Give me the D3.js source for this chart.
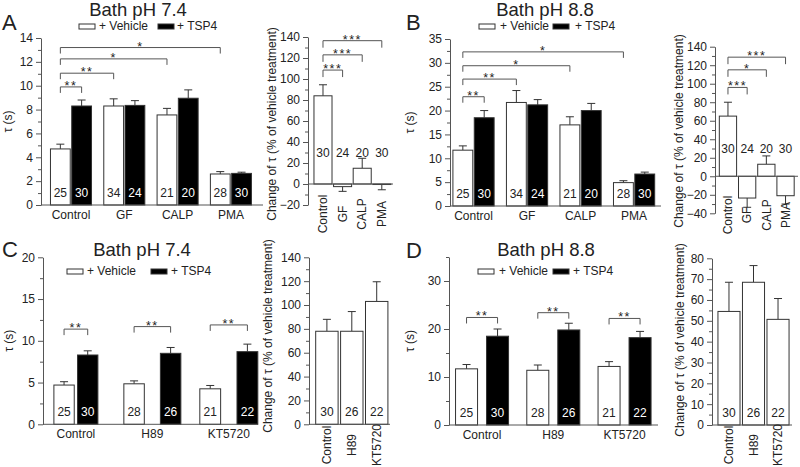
<!DOCTYPE html>
<html><head><meta charset="utf-8">
<script src="https://cdn.jsdelivr.net/npm/d3@7"></script>
<style>
body{margin:0;background:#fff}
text{font-family:"Liberation Sans",Arial,sans-serif;fill:#222}
</style>
</head><body>
<svg id="chart" width="800" height="467"></svg>
<script>
// ---------------- DATA ----------------
const groupsAB = ["Control", "GF", "CALP", "PMA"];
const groupsCD = ["Control", "H89", "KT5720"];
const seriesKeys = ["veh", "tsp"];
const seriesLabels = ["+ Vehicle", "+ TSP4"];

// Panel A (pH 7.4), tau (s)
const vehA = [4.7, 8.3, 7.55, 2.6];
const vehErrA = [0.4, 0.6, 0.55, 0.2];
const tspA = [8.3, 8.35, 8.95, 2.65];
const tspErrA = [0.5, 0.4, 0.7, 0.1];
const nVehA = [25, 34, 21, 28];
const nTspA = [30, 24, 20, 30];
const sigToA = ["Control|tsp", "GF|veh", "CALP|veh", "PMA|veh"];
const sigLabelA = ["**", "**", "*", "*"];
const sigLevelA = [9.9, 11.05, 12.25, 13.2];
// Panel A right: change of tau (%)
const changeA = [84, -2.5, 15, -0.5];
const changeErrA = [10.5, 4.5, 9.5, 5];
const nChangeA = [30, 24, 20, 30];
const csigToA = ["GF", "CALP", "PMA"];
const csigLabelA = ["***", "***", "***"];
const csigLevelA = [108.5, 123, 136.5];

// Panel B (pH 8.8)
const vehB = [11.7, 21.7, 17.0, 4.9];
const vehErrB = [0.9, 2.5, 1.7, 0.4];
const tspB = [18.5, 21.2, 20.0, 6.7];
const tspErrB = [1.5, 1.1, 1.5, 0.4];
const nVehB = [25, 34, 21, 28];
const nTspB = [30, 24, 20, 30];
const sigToB = ["Control|tsp", "GF|veh", "CALP|veh", "PMA|veh"];
const sigLabelB = ["**", "**", "*", "*"];
const sigLevelB = [22.9, 26.6, 29.4, 32.3];
const changeB = [65, -23.5, 13, -21];
const changeErrB = [15, 10, 9, 9];
const nChangeB = [30, 24, 20, 30];
const csigToB = ["GF", "CALP", "PMA"];
const csigLabelB = ["***", "*", "***"];
const csigLevelB = [96, 115, 128.7];

// Panel C (pH 7.4, PKA inhibitors)
const vehC = [4.7, 4.85, 4.25];
const vehErrC = [0.4, 0.35, 0.4];
const tspC = [8.3, 8.5, 8.7];
const tspErrC = [0.5, 0.7, 0.9];
const nVehC = [25, 28, 21];
const nTspC = [30, 26, 22];
const sigFromC = ["Control|veh", "H89|veh", "KT5720|veh"];
const sigToC = ["Control|tsp", "H89|tsp", "KT5720|tsp"];
const sigLabelC = ["**", "**", "**"];
const sigLevelC = [11.4, 11.7, 11.9];
const changeC = [78, 78, 103];
const changeErrC = [10, 16.5, 16.5];
const nChangeC = [30, 26, 22];

// Panel D (pH 8.8, PKA inhibitors)
const vehD = [11.7, 11.4, 12.2];
const vehErrD = [0.9, 1.1, 1.0];
const tspD = [18.5, 19.8, 18.2];
const tspErrD = [1.5, 1.4, 1.3];
const nVehD = [25, 28, 21];
const nTspD = [30, 26, 22];
const sigFromD = ["Control|veh", "H89|veh", "KT5720|veh"];
const sigToD = ["Control|tsp", "H89|tsp", "KT5720|tsp"];
const sigLabelD = ["**", "**", "**"];
const sigLevelD = [22.4, 23.4, 22.2];
const changeD = [54.5, 68.5, 50.7];
const changeErrD = [14, 8, 10];
const nChangeD = [30, 26, 22];

// ---------------- DRAWING ----------------
const svg = d3.select("#chart");
svg.append("rect").attr("width", 800).attr("height", 467).attr("fill", "#fff");
const AX = "#555", BAR = "#333", TXT = "#222";
const FONT = '"Liberation Sans",Arial,sans-serif';
const FS = 12;

function yAxis(g, y, x, major, minor) {
  const ax = d3.axisLeft(y).tickValues(major).tickSize(5).tickSizeOuter(0).tickPadding(3).tickFormat(d3.format("d"));
  const a = g.append("g").attr("transform", `translate(${x},0)`).call(ax);
  a.select(".domain").attr("stroke", AX);
  a.selectAll(".tick line").attr("stroke", AX);
  a.selectAll(".tick text").attr("font-size", FS).attr("fill", TXT).attr("font-family", FONT);
  const am = d3.axisLeft(y).tickValues(minor).tickSize(3).tickSizeOuter(0).tickFormat("");
  const b = g.append("g").attr("transform", `translate(${x},0)`).call(am);
  b.select(".domain").remove();
  b.selectAll(".tick line").attr("stroke", AX);
}

function errBar(g, x, y, v, e, cap) {
  const s = v >= 0 ? 1 : -1;
  g.append("line").attr("x1", x).attr("x2", x).attr("y1", y(v)).attr("y2", y(v + s * e)).attr("stroke", BAR);
  g.append("line").attr("x1", x - cap / 2).attr("x2", x + cap / 2).attr("y1", y(v + s * e)).attr("y2", y(v + s * e)).attr("stroke", BAR);
}

function rotLabel(g, txt, x, y) {
  g.append("text").attr("transform", `translate(${x},${y}) rotate(-90)`).attr("text-anchor", "middle")
    .attr("dy", "0.35em").attr("font-size", FS).style("fill", TXT).text(txt);
}

function bracket(g, xa, xb, yl, label, leg) {
  g.append("path").attr("d", `M${xa},${yl + leg}V${yl}H${xb}V${yl + leg}`).attr("fill", "none").attr("stroke", AX);
  g.append("text").attr("x", (xa + xb) / 2).attr("y", yl + 3).attr("text-anchor", "middle")
    .attr("font-size", 12.5).attr("letter-spacing", 1.5).style("fill", TXT).attr("font-family", FONT).text(label);
}

function mainPanel(cfg) {
  const g = svg.append("g");
  const y = d3.scaleLinear().domain(cfg.yDomain).range([cfg.bot, cfg.top]);
  const x0 = d3.scaleBand().domain(cfg.groups).range(cfg.bandRange).paddingInner(cfg.pad).paddingOuter(cfg.pad);
  // inner (series) scale per group; width and padding can differ per group
  const x1 = {};
  cfg.groups.forEach((gr, i) => {
    const c = x0(gr) + x0.bandwidth() / 2;
    const w = cfg.groupW ? cfg.groupW[i] : x0.bandwidth();
    const p = Array.isArray(cfg.innerPad) ? cfg.innerPad[i] : cfg.innerPad;
    x1[gr] = d3.scaleBand().domain(seriesKeys).range([c - w / 2, c + w / 2]).paddingInner(p);
  });
  const bx = (gr, s) => x1[gr](s);
  const bw = gr => x1[gr].bandwidth();
  const cx = key => { const [gr, s] = key.split("|"); return bx(gr, s) + bw(gr) / 2; };

  const rows = [];
  cfg.groups.forEach((gr, i) => {
    rows.push({ g: gr, s: "veh", v: cfg.veh[i], e: cfg.vehErr[i], n: cfg.nVeh[i] });
    rows.push({ g: gr, s: "tsp", v: cfg.tsp[i], e: cfg.tspErr[i], n: cfg.nTsp[i] });
  });
  rows.forEach(r => errBar(g, cx(r.g + "|" + r.s), y, r.v, r.e, 8));
  g.selectAll(null).data(rows).enter().append("rect")
    .attr("x", r => bx(r.g, r.s)).attr("width", r => bw(r.g))
    .attr("y", r => y(r.v)).attr("height", r => y(0) - y(r.v))
    .attr("fill", r => r.s === "veh" ? "#fff" : "#000").attr("stroke", BAR).attr("stroke-width", 1);
  g.selectAll(null).data(rows).enter().append("text")
    .attr("x", r => cx(r.g + "|" + r.s)).attr("y", y(0) - 8).attr("text-anchor", "middle")
    .attr("font-size", FS).style("fill", r => r.s === "veh" ? TXT : "#fff").text(r => r.n);

  yAxis(g, y, cfg.axL, cfg.major, cfg.minor);
  g.append("line").attr("x1", cfg.axL).attr("x2", cfg.axR).attr("y1", y(0)).attr("y2", y(0)).attr("stroke", AX);
  g.selectAll(null).data(cfg.groups).enter().append("text")
    .attr("x", d => x0(d) + x0.bandwidth() / 2).attr("y", y(0) + 14).attr("text-anchor", "middle")
    .attr("font-size", FS).style("fill", TXT).text(d => d);
  rotLabel(g, "τ (s)", cfg.ylabX, (cfg.top + cfg.bot) / 2);

  cfg.sigTo.forEach((t, i) => {
    const from = cfg.sigFrom ? cfg.sigFrom[i] : "Control|veh";
    bracket(g, cx(from), cx(t), y(cfg.sigLevel[i]), cfg.sigLabel[i], 6);
  });

  g.append("text").attr("x", cfg.titleX).attr("y", cfg.titleY).attr("text-anchor", "middle").attr("font-size", 18.5).style("fill", TXT).text(cfg.title);
  g.append("text").attr("x", cfg.letterX).attr("y", cfg.letterY).attr("font-size", 22).style("fill", TXT).text(cfg.letter);
  const L = cfg.legend;
  seriesKeys.forEach((s, i) => {
    g.append("rect").attr("x", L.rx[i]).attr("y", L.y - 6).attr("width", 16).attr("height", 5)
      .attr("fill", s === "veh" ? "#fff" : "#000").attr("stroke", BAR);
    g.append("text").attr("x", L.tx[i]).attr("y", L.y).attr("font-size", FS).style("fill", TXT).text(seriesLabels[i]);
  });
}

function changePanel(cfg) {
  const g = svg.append("g");
  const y = d3.scaleLinear().domain(cfg.yDomain).range([cfg.bot, cfg.top]);
  const x = d3.scaleBand().domain(cfg.groups).range(cfg.bandRange).paddingInner(cfg.pad).paddingOuter(cfg.pad);
  const cx = d => x(d) + x.bandwidth() / 2;
  cfg.groups.forEach((d, i) => errBar(g, cx(d), y, cfg.vals[i], cfg.errs[i], 8));
  g.selectAll(null).data(cfg.groups).enter().append("rect")
    .attr("x", d => x(d)).attr("width", x.bandwidth())
    .attr("y", (d, i) => y(Math.max(0, cfg.vals[i])))
    .attr("height", (d, i) => Math.abs(y(cfg.vals[i]) - y(0)))
    .attr("fill", "#fff").attr("stroke", BAR);
  g.selectAll(null).data(cfg.groups).enter().append("text")
    .attr("x", d => cx(d)).attr("y", cfg.nAt === "bottom" ? y(0) - 8 : y(cfg.nLevel) + 4.5)
    .attr("text-anchor", "middle").attr("font-size", FS).style("fill", TXT).text((d, i) => cfg.ns[i]);
  yAxis(g, y, cfg.axL, cfg.major, cfg.minor);
  g.append("line").attr("x1", cfg.axL).attr("x2", cfg.axR).attr("y1", y(0)).attr("y2", y(0)).attr("stroke", AX);
  g.selectAll(null).data(cfg.groups).enter().append("text")
    .attr("transform", d => `translate(${cx(d)},${cfg.xlabY}) rotate(-90)`)
    .attr("text-anchor", "middle").attr("dy", "0.35em").attr("font-size", FS).style("fill", TXT).text(d => d);
  rotLabel(g, "Change of τ (% of vehicle treatment)", cfg.ylabX, cfg.ylabY);
  if (cfg.sigTo) cfg.sigTo.forEach((t, i) => bracket(g, cx(cfg.groups[0]), cx(t), y(cfg.sigLevel[i]), cfg.sigLabel[i], 7));
}

// ---- Panel A
mainPanel({
  groups: groupsAB, veh: vehA, vehErr: vehErrA, tsp: tspA, tspErr: tspErrA, nVeh: nVehA, nTsp: nTspA,
  sigTo: sigToA, sigLabel: sigLabelA, sigLevel: sigLevelA,
  yDomain: [0, 14], major: d3.range(0, 15, 2), minor: d3.range(1, 14, 2),
  top: 38, bot: 205, axL: 41, axR: 263, bandRange: [38.2, 263.7], pad: 0.23, innerPad: 0.07,
  ylabX: 8, title: "Bath pH 7.4", titleX: 138, titleY: 16, letter: "A", letterX: 2, letterY: 30,
  legend: { y: 30, rx: [79, 158], tx: [99, 177] }
});
changePanel({
  groups: groupsAB, vals: changeA, errs: changeErrA, ns: nChangeA, nAt: "top", nLevel: 30,
  sigTo: csigToA, sigLabel: csigLabelA, sigLevel: csigLevelA,
  yDomain: [-20, 140], major: d3.range(-20, 141, 20), minor: d3.range(-10, 140, 20),
  top: 37, bot: 205, axL: 308, axR: 393, bandRange: [312.4, 392.4], pad: 0.08,
  xlabY: 214, ylabX: 272, ylabY: 124
});
// ---- Panel B
mainPanel({
  groups: groupsAB, veh: vehB, vehErr: vehErrB, tsp: tspB, tspErr: tspErrB, nVeh: nVehB, nTsp: nTspB,
  sigTo: sigToB, sigLabel: sigLabelB, sigLevel: sigLevelB,
  yDomain: [0, 35], major: d3.range(0, 36, 5), minor: d3.range(2.5, 35, 5),
  top: 39, bot: 206, axL: 450, axR: 661, bandRange: [440.6, 667], pad: 0.23, innerPad: 0.07,
  ylabX: 410, title: "Bath pH 8.8", titleX: 545, titleY: 16, letter: "B", letterX: 406, letterY: 30,
  legend: { y: 30, rx: [479, 553], tx: [500, 575] }
});
changePanel({
  groups: groupsAB, vals: changeB, errs: changeErrB, ns: nChangeB, nAt: "top", nLevel: 30.5,
  sigTo: csigToB, sigLabel: csigLabelB, sigLevel: csigLevelB,
  yDomain: [-40, 140], major: d3.range(-40, 141, 20), minor: d3.range(-30, 140, 20),
  top: 46.7, bot: 213.3, axL: 715, axR: 798, bandRange: [717.4, 796.1], pad: 0.1,
  xlabY: 215, ylabX: 679, ylabY: 131
});
// ---- Panel C
mainPanel({
  groups: groupsCD, veh: vehC, vehErr: vehErrC, tsp: tspC, tspErr: tspErrC, nVeh: nVehC, nTsp: nTspC,
  sigFrom: sigFromC, sigTo: sigToC, sigLabel: sigLabelC, sigLevel: sigLevelC,
  yDomain: [0, 20], major: d3.range(0, 21, 5), minor: d3.range(2.5, 20, 5),
  top: 257.3, bot: 424.3, axL: 43, axR: 257, bandRange: [28.6, 276.1], pad: 0.237,
  groupW: [44, 57, 58], innerPad: [0.14, 0.44, 0.44],
  ylabX: 9, title: "Bath pH 7.4", titleX: 142, titleY: 256, letter: "C", letterX: 2, letterY: 257,
  legend: { y: 275, rx: [67, 151], tx: [87, 171] }
});
changePanel({
  groups: groupsCD, vals: changeC, errs: changeErrC, ns: nChangeC, nAt: "bottom",
  yDomain: [0, 140], major: d3.range(0, 141, 20), minor: d3.range(10, 140, 20),
  top: 257.3, bot: 424.3, axL: 309, axR: 390, bandRange: [313.2, 390.4], pad: 0.1,
  xlabY: 445, ylabX: 268, ylabY: 336
});
// ---- Panel D
mainPanel({
  groups: groupsCD, veh: vehD, vehErr: vehErrD, tsp: tspD, tspErr: tspErrD, nVeh: nVehD, nTsp: nTspD,
  sigFrom: sigFromD, sigTo: sigToD, sigLabel: sigLabelD, sigLevel: sigLevelD,
  yDomain: [0, 35], major: d3.range(0, 31, 10), minor: d3.range(5, 36, 10),
  top: 257, bot: 425, axL: 449, axR: 658, bandRange: [437.3, 669.3], pad: 0.256, innerPad: 0.29,
  ylabX: 410, title: "Bath pH 8.8", titleX: 546, titleY: 256, letter: "D", letterX: 406, letterY: 258,
  legend: { y: 275, rx: [478, 553], tx: [499, 573] }
});
changePanel({
  groups: groupsCD, vals: changeD, errs: changeErrD, ns: nChangeD, nAt: "bottom",
  yDomain: [0, 80], major: d3.range(0, 81, 10), minor: d3.range(5, 80, 10),
  top: 258.3, bot: 425, axL: 712, axR: 792, bandRange: [715.5, 791.5], pad: 0.1,
  xlabY: 445, ylabX: 680, ylabY: 340
});
</script>
</body></html>
